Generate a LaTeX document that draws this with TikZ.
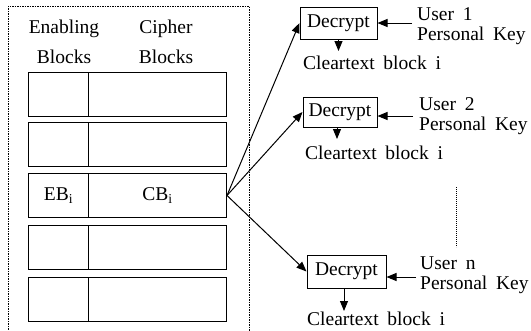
\documentclass[tikz,border=0pt]{standalone}
\usepackage{fontspec}
\setmainfont{Liberation Serif}[WordSpace=1.8]
\usetikzlibrary{arrows.meta}
\tikzset{
  txt/.style={font=\fontsize{19.5}{30}\selectfont, inner sep=1pt},
  blk/.style={draw, line width=1pt, minimum height=44pt, inner sep=0pt, anchor=north west},
  ebbox/.style={blk, minimum width=60pt},
  cbbox/.style={blk, minimum width=138pt},
  decbox/.style={draw, line width=1pt, inner sep=0pt, font=\fontsize{19.5}{22}\selectfont},
  arr/.style={line width=1pt, -{Triangle[length=10pt,width=8pt]}},
  outline/.style={line width=0.8pt, dash pattern=on 1.5pt off 1pt},
  userlbl/.style={txt, anchor=north west, align=left, font=\fontsize{19.5}{20}\selectfont},
}
\begin{document}
\begin{tikzpicture}[x=1pt,y=-1pt]
\useasboundingbox (0,0) rectangle (531,330);
% outer dashed frame
\draw[outline] (8,332) -- (8,6) -- (249,6) -- (249,332);
% headers
\node[txt, align=center] (hEB) at (64,42) {Enabling\\Blocks};
\node[txt, align=center] (hCB) at (166,42) {Cipher\\Blocks};
% rows
\foreach \i/\t in {1/72,2/122,3/173,4/225,5/277}{
  \node[ebbox] (eb\i) at (28,\t) {};
  \node[cbbox] (cb\i) at (88,\t) {};
}
\node[txt] at (eb3.center) {EB\textsubscript{i}};
\node[txt] at (cb3.center) {CB\textsubscript{i}};
% decrypt boxes
\node[decbox, minimum width=77pt, minimum height=32pt] (dec1) at (338.5,23) {Decrypt};
\node[decbox, minimum width=74pt, minimum height=30pt] (dec2) at (340,112) {Decrypt};
\node[decbox, minimum width=79pt, minimum height=33pt] (dec3) at (346.5,271.5) {Decrypt};
% user labels
\node[userlbl] (u1) at (416,6) {User 1\\Personal Key};
\node[userlbl] (u2) at (418,96) {User 2\\Personal Key};
\node[userlbl] (u3) at (419,256) {User n\\Personal Key};
\coordinate (k1) at (412,23);
\coordinate (k2) at (413,116);
\coordinate (k3) at (416,277);
\draw[arr] (k1) -- (k1 -| dec1.east);
\draw[arr] (k2) -- (k2 -| dec2.east);
\draw[arr] (k3) -- (k3 -| dec3.east);
% cleartext labels
\node[txt, anchor=west] (ct1) at (302,63) {Cleartext block i};
\node[txt, anchor=west] (ct2) at (304,153) {Cleartext block i};
\node[txt, anchor=west] (ct3) at (306,319) {Cleartext block i};
\draw[arr] (dec1.south) -- (dec1.south |- 0,51);
\draw[arr] (dec2.south -| 337,0) -- (337,139);
\draw[arr] (dec3.south -| 344,0) -- (344,311);
% fan-out arrows
\draw[arr] (cb3.east) -- (dec1.west);
\draw[arr] (cb3.east) -- (dec2.west);
\draw[arr] (cb3.east) -- (dec3.west);
% vertical dotted ellipsis
\draw[line width=0.8pt, dash pattern=on 1.2pt off 0.8pt] (456,187) -- (456,247);
\end{tikzpicture}
\end{document}
